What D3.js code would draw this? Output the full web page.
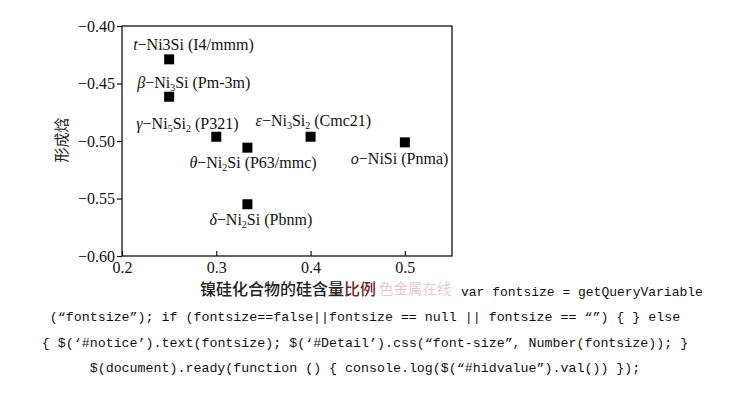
<!DOCTYPE html>
<html>
<head>
<meta charset="utf-8">
<script src="https://cdn.jsdelivr.net/npm/d3@7"></script>
<style>
  html, body { margin: 0; padding: 0; background: #fff; }
  svg { display: block; }
</style>
</head>
<body>
<svg id="chart" width="730" height="416"></svg>
<script>
// ---------- data ----------
const phaseLabels = [
  "t-Ni3Si(I4/mmm)",
  "β-Ni_3Si(Pm-3m)",
  "γ-Ni_5Si_2(P321)",
  "θ-Ni_2Si(P63/mmc)",
  "ε-Ni_3Si_2(Cmc21)",
  "o-NiSi(Pnma)",
  "δ-Ni_2Si(Pbnm)"
];
const siRatio   = [0.25, 0.25, 0.30, 0.333, 0.40, 0.50, 0.333];
const enthalpy  = [-0.429, -0.4615, -0.4963, -0.5058, -0.4963, -0.5012, -0.555];
const xTicks = [0.2, 0.3, 0.4, 0.5];
const yTicks = [-0.60, -0.55, -0.50, -0.45, -0.40];
const xTitle = "镍硅化合物的硅含量比例";
const yTitle = "形成焓";
const watermark = "色金属在线";
const codeLines = [
  "var fontsize = getQueryVariable",
  "(“fontsize”); if (fontsize==false||fontsize == null || fontsize == “”) { } else",
  "{ $(‘#notice’).text(fontsize); $(‘#Detail’).css(“font-size”, Number(fontsize)); }",
  "$(document).ready(function () { console.log($(“#hidvalue”).val()) });"
];

// ---------- layout (positions only) ----------
const labelOffsets = [[-36, -9], [-32, -9], [-80, -8], [-58, 20], [-55, -11], [-54, 22], [-38, 21]];
const plot = { left: 122, right: 452, top: 26, bottom: 256 };

const svg = d3.select("#chart");
const x = d3.scaleLinear().domain([0.2, 0.55]).range([plot.left, plot.right]);
const y = d3.scaleLinear().domain([-0.60, -0.40]).range([plot.bottom, plot.top]);

const serif = "'Liberation Serif', 'Times New Roman', serif";

// frame
svg.append("rect")
  .attr("x", plot.left).attr("y", plot.top)
  .attr("width", plot.right - plot.left).attr("height", plot.bottom - plot.top)
  .attr("fill", "none").attr("stroke", "#111").attr("stroke-width", 1.3);

// x axis (ticks inward)
const xAxis = svg.append("g")
  .attr("transform", `translate(0,${plot.bottom})`)
  .call(d3.axisBottom(x).tickValues(xTicks).tickFormat(d3.format(".1f")).tickSizeInner(-5).tickSizeOuter(0).tickPadding(6));
xAxis.select(".domain").remove();
xAxis.selectAll("line").attr("stroke", "#111").attr("stroke-width", 1.2);
xAxis.selectAll("text").attr("font-family", serif).attr("font-size", 16).attr("fill", "#111");

// y axis (ticks outward)
const yAxis = svg.append("g")
  .attr("transform", `translate(${plot.left},0)`)
  .call(d3.axisLeft(y).tickValues(yTicks).tickFormat(d3.format(".2f")).tickSizeInner(5).tickSizeOuter(0).tickPadding(2));
yAxis.select(".domain").remove();
yAxis.selectAll("line").attr("stroke", "#111").attr("stroke-width", 1.2);
yAxis.selectAll("text").attr("font-family", serif).attr("font-size", 16).attr("fill", "#111");

// markers
const pts = phaseLabels.map((l, i) => ({ label: l, x: siRatio[i], y: enthalpy[i], off: labelOffsets[i] }));
const ms = 10;
svg.append("g").selectAll("rect").data(pts).join("rect")
  .attr("x", d => x(d.x) - ms / 2).attr("y", d => y(d.y) - ms / 2)
  .attr("width", ms).attr("height", ms).attr("fill", "#000");

// labels with italic prefix and subscripts
const lbl = svg.append("g").selectAll("text").data(pts).join("text")
  .attr("x", d => x(d.x) + d.off[0]).attr("y", d => y(d.y) + d.off[1])
  .attr("font-family", serif).attr("font-size", 16).attr("fill", "#111");
lbl.each(function (d) {
  const t = d3.select(this);
  const s = d.label;
  t.append("tspan").attr("font-style", "italic").text(s[0]);
  const rest = s.slice(1).replace("-", "−").replace("(", " (");
  const parts = rest.split(/(_\d)/).filter(p => p.length);
  let pending = 0;
  parts.forEach(p => {
    if (p.startsWith("_")) {
      t.append("tspan").attr("font-size", 10).attr("dy", 3 + pending).text(p.slice(1));
      pending = -3;
    } else {
      t.append("tspan").attr("dy", pending).text(p);
      pending = 0;
    }
  });
});

// y title
svg.append("text")
  .attr("transform", "translate(67,140) rotate(-90)")
  .attr("text-anchor", "middle")
  .attr("font-family", "'Noto Sans CJK SC', sans-serif").attr("font-size", 15).attr("fill", "#222")
  .text(yTitle);

// x title
const xt = svg.append("text")
  .attr("x", 200).attr("y", 295)
  .attr("font-family", "'Noto Sans CJK SC', sans-serif").attr("font-size", 16).attr("font-weight", 500).attr("fill", "#222");
xt.append("tspan").text(xTitle.slice(0, 9));
xt.append("tspan").attr("fill", "#6e2428").text(xTitle.slice(9));

svg.append("text")
  .attr("x", 379).attr("y", 294)
  .attr("font-family", "'Noto Sans CJK SC', sans-serif").attr("font-size", 14.5)
  .attr("fill", "#e07a86").attr("fill-opacity", 0.45)
  .text(watermark);

// code text
const mono = "'Liberation Mono', 'DejaVu Sans Mono', monospace";
svg.append("text").attr("x", 461).attr("y", 296)
  .attr("font-family", mono).attr("font-size", 13).attr("fill", "#111").text(codeLines[0]);
const codeY = [321, 347, 372];
codeLines.slice(1).forEach((l, i) => {
  svg.append("text").attr("x", 365).attr("y", codeY[i]).attr("text-anchor", "middle")
    .attr("font-family", mono).attr("font-size", 13.3).attr("fill", "#111").text(l);
});
</script>
</body>
</html>
